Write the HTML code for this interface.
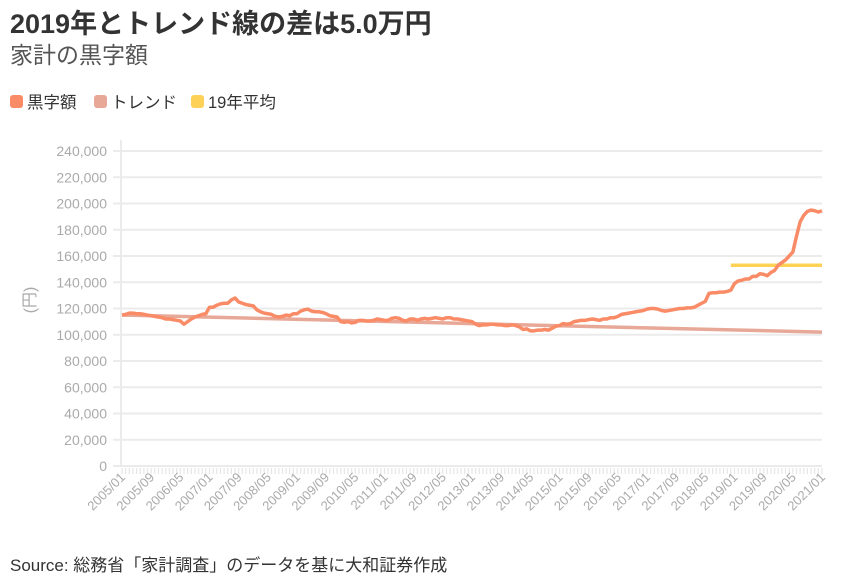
<!DOCTYPE html>
<html><head><meta charset="utf-8"><style>
body{margin:0;background:#fff;width:844px;height:583px;overflow:hidden;font-family:"Liberation Sans","Noto Sans CJK JP",sans-serif}
.t{position:absolute;left:10px;top:2px;font-size:27px;font-weight:bold;color:#333}
.s{position:absolute;left:10px;top:36px;font-size:23px;color:#555}
.lg{position:absolute;top:89px;font-size:16.5px;color:#333;display:flex;align-items:center}
.lg span{display:inline-block;width:13px;height:13px;border-radius:3px;margin-right:4px}
.src{position:absolute;left:10px;top:551px;font-size:17px;color:#333}
svg{position:absolute;left:0;top:0}
</style></head><body>
<div class="t">2019年とトレンド線の差は5.0万円</div>
<div class="s">家計の黒字額</div>
<div class="lg" style="left:10px"><span style="background:#f98b67"></span>黒字額</div>
<div class="lg" style="left:94px"><span style="background:#e8a898"></span>トレンド</div>
<div class="lg" style="left:191px"><span style="background:#fdd155"></span>19年平均</div>
<div class="src">Source: 総務省「家計調査」のデータを基に大和証券作成</div>
<svg id="c" width="844" height="583"></svg>
<script>
const yTicks=[0,20000,40000,60000,80000,100000,120000,140000,160000,180000,200000,220000,240000];
const values=[
115000,115500,116500,116500,116000,116000,115500,115000,114500,114000,113500,113000,
112000,112000,111500,111000,110500,108000,110000,112000,113500,114500,115500,116000,
121000,121000,122500,123500,124000,124000,126500,128000,125000,124000,123000,122500,
122000,119000,117500,116500,116000,115500,114000,113500,114000,115000,114500,116000,
116000,118000,119000,119500,118000,117500,117500,117000,116000,114500,114000,113500,
110000,109500,110000,109000,109500,111000,111000,110500,110500,111000,112000,111500,
111000,111000,112500,113000,112500,111000,110500,112000,112000,111000,112000,112500,
112000,112500,113000,112500,112000,113000,113000,112000,112000,111500,111000,110500,
110000,108000,107000,107500,107500,108000,108000,107500,107500,107000,107000,107500,
107000,106000,104000,104500,103000,103000,103500,103500,104000,103500,105000,106500,
107000,108500,108000,108500,110000,110500,111000,111000,111500,112000,111500,111000,
112000,112000,113000,113000,114000,115500,116000,116500,117000,117500,118000,118500,
119500,120000,120000,119500,118500,118000,118500,119000,119500,120000,120000,120500,
120500,121000,122500,124000,125500,131500,132000,132000,132500,132500,133000,134000,
139000,141000,141500,142500,142500,144500,144500,146500,146000,145000,147500,149000,
153000,155000,157000,160000,163000,175000,186000,191000,194000,195000,194500,193500,
194500];
const trendEnds=[115000,102000];
const avg2019=[153000];
const avgStartMonth=167;
const labelEvery=8;
const startYear=2005;
const NS="http://www.w3.org/2000/svg",svg=document.getElementById('c');
const X0=122,X1=822,Y0=466,Y1=151,N=values.length;
const x=i=>X0+(X1-X0)*i/(N-1), y=v=>Y0-(Y0-Y1)*v/240000;
function mk(t,a,p){const e=document.createElementNS(NS,t);for(const k in a)e.setAttribute(k,a[k]);(p||svg).appendChild(e);return e;}
yTicks.forEach(v=>{
 const g=mk('line',{x1:113,x2:822,y1:y(v),y2:y(v),stroke:'#ebebeb','stroke-width':2});
 
 
 const t=mk('text',{x:107,y:y(v)+5,'text-anchor':'end','font-size':14,fill:'#aaa'});
 t.textContent=v.toLocaleString('en-US');
 
 
});
const ax=mk('line',{x1:121,x2:121,y1:140,y2:466,stroke:'#ebebeb','stroke-width':2});


for(let i=0;i<N;i++){
 const tk=mk('line',{x1:x(i),x2:x(i),y1:468,y2:474,stroke:'#e6e6e6','stroke-width':1.2});
 
 
 if(i%labelEvery===0){
  const yr=startYear+Math.floor(i/12),m=i%12+1;
  const lx=x(i)+4,ly=478;
  const t=mk('text',{x:lx,y:ly,'text-anchor':'end','font-size':13,fill:'#aaa',transform:`rotate(-45 ${lx} ${ly})`});
  t.textContent=yr+'/'+String(m).padStart(2,'0');
  
  
 }
}
const yl=mk('text',{x:35,y:300,'text-anchor':'middle','font-size':16,fill:'#aaa',transform:'rotate(-90 35 300)'});
yl.textContent='(円)';


const tr=mk('line',{x1:x(0),x2:x(N-1),y1:y(trendEnds[0]),y2:y(trendEnds[1]),stroke:'#e8a898','stroke-width':3.5});


const av=mk('line',{x1:x(avgStartMonth),x2:x(N-1),y1:y(avg2019[0]),y2:y(avg2019[0]),stroke:'#fdd155','stroke-width':3.5});


const ln=mk('polyline',{points:values.map((v,i)=>x(i)+','+y(v)).join(' '),fill:'none',stroke:'#f98b67','stroke-width':3.5,'stroke-linejoin':'round'});


</script>
</body></html>
